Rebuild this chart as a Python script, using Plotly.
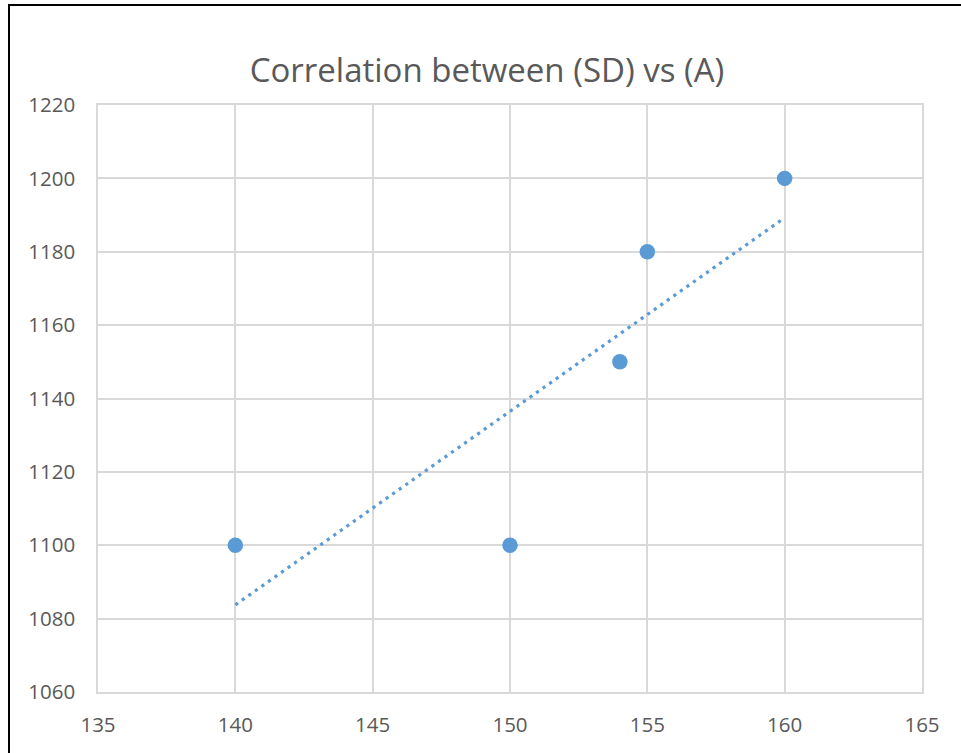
import numpy as np
import plotly.graph_objects as go

sd_values = [140, 150, 154, 155, 160]
a_values = [1100, 1100, 1150, 1180, 1200]
x_ticks = [135, 140, 145, 150, 155, 160, 165]
y_ticks = [1060, 1080, 1100, 1120, 1140, 1160, 1180, 1200, 1220]
title_text = "Correlation between (SD) vs (A)"

blue = "#5B9BD5"
grey_text = "#595959"
grid = "#D9D9D9"
font_family = "Open Sans"

slope, intercept = np.polyfit(sd_values, a_values, 1)
trend_x = [min(sd_values), max(sd_values)]
trend_y = [slope * v + intercept for v in trend_x]

fig = go.Figure()
fig.add_trace(go.Scatter(x=trend_x, y=trend_y, mode="lines",
                         line=dict(color=blue, width=3.2, dash="3.2px,4.8px"),
                         hoverinfo="skip", showlegend=False))
fig.add_trace(go.Scatter(x=sd_values, y=a_values, mode="markers",
                         marker=dict(color=blue, size=15.5), showlegend=False))

W, H = 961, 753
L, R, T, B = 98, 39, 105, 61
pw, ph = W - L - R, H - T - B

fig.update_layout(
    width=W, height=H,
    margin=dict(l=L, r=R, t=T, b=B),
    paper_bgcolor="white", plot_bgcolor="white",
    title=dict(text=title_text, x=487 / W, xanchor="center",
               y=1 - 70 / H, yanchor="middle",
               font=dict(family=font_family, size=33, color=grey_text)),
    font=dict(family=font_family, color=grey_text),
    xaxis=dict(range=[135, 165], tickvals=x_ticks, showgrid=True, gridcolor=grid,
               gridwidth=1.5, zeroline=False, showline=True, linecolor=grid,
               linewidth=1.5, mirror=True, ticks="", ticklabelstandoff=14,
               tickfont=dict(family=font_family, size=20.5, color=grey_text)),
    yaxis=dict(range=[1060, 1220], tickvals=y_ticks, showgrid=True, gridcolor=grid,
               gridwidth=1.5, zeroline=False, showline=True, linecolor=grid,
               linewidth=1.5, mirror=True, ticks="", ticklabelstandoff=17,
               tickfont=dict(family=font_family, size=20.5, color=grey_text)),
    shapes=[dict(type="rect", xref="paper", yref="paper",
                 x0=(9 - L) / pw, x1=1 + (R + 20) / pw,
                 y0=-(B + 20) / ph, y1=1 + (T - 5) / ph,
                 line=dict(color="black", width=2), fillcolor="rgba(0,0,0,0)",
                 layer="above")],
)

fig.write_html("out.html")
